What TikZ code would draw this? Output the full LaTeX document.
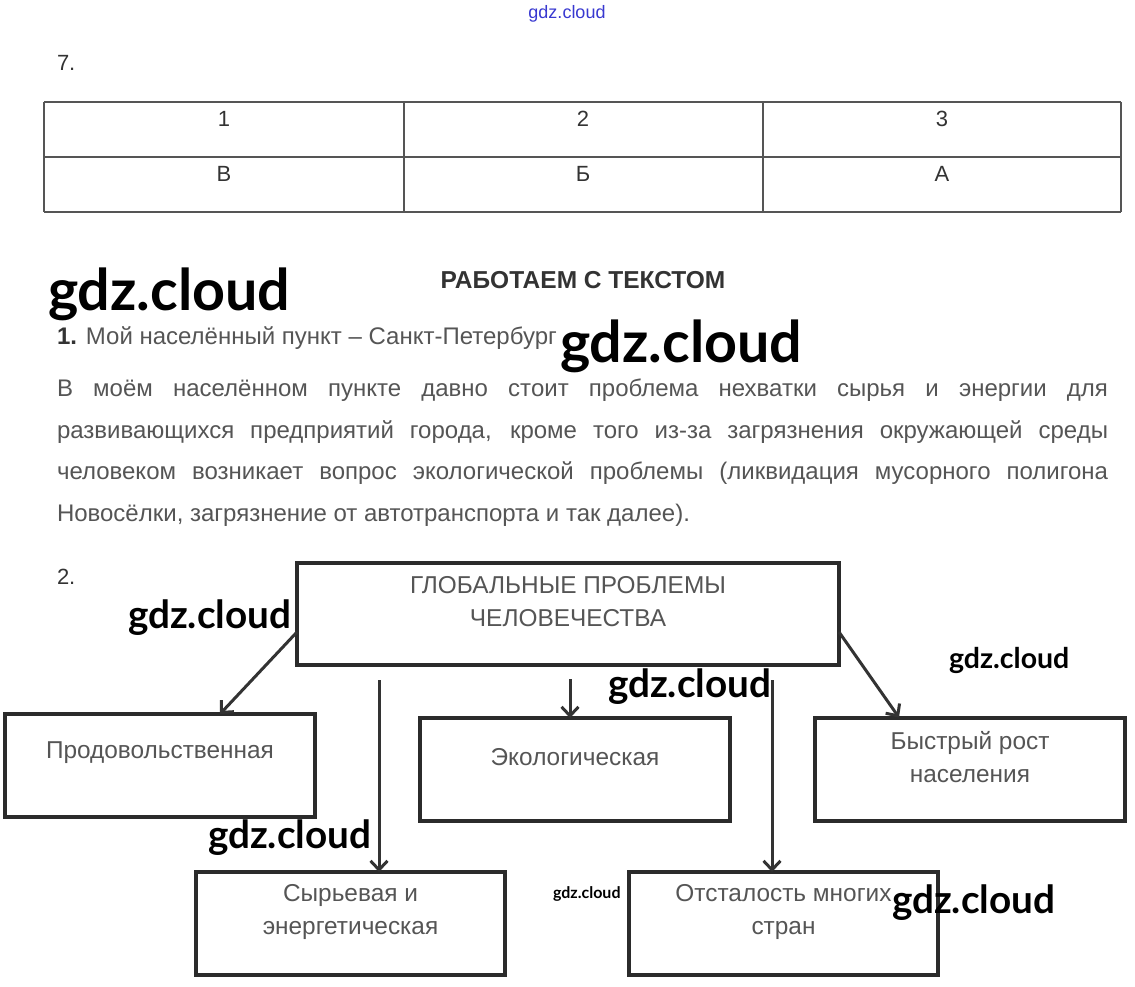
\documentclass[tikz,border=0pt]{standalone}
\usepackage{fontspec}
\setmainfont{Liberation Sans}
\newfontfamily\wmfont{Lato}
\usetikzlibrary{arrows.meta, positioning}

\definecolor{txtgray}{HTML}{555555}
\definecolor{darkgray}{HTML}{333333}
\definecolor{linegray}{HTML}{2B2B2B}
\definecolor{wmblue}{HTML}{3838D0}

\begin{document}
\begin{tikzpicture}[x=1pt, y=-1pt, >=Stealth,
    every node/.style={inner sep=0pt, outer sep=0pt},
    cell/.style={anchor=base, text=darkgray, font=\fontsize{22}{26}\selectfont},
    txtline/.style={anchor=base west, text=txtgray, font=\fontsize{24}{28}\selectfont},
    probbox/.style={draw=linegray, line width=4pt, minimum width=310pt, minimum height=103pt},
    boxtext/.style={align=center, text=txtgray, font=\fontsize{24.4}{33}\selectfont},
    link/.style={draw=darkgray, line width=3pt, -{Straight Barb[length=9pt,width=17pt]}},
    wm/.style={anchor=base west, font=\wmfont\bfseries\fontsize{#1}{#1}\selectfont}
]

    % Define variables
    \def\Lw{1051}
    \useasboundingbox (0,0) rectangle (1135,986);

    % Page heading
    \node[anchor=base, text=wmblue, font=\fontsize{18}{20}\selectfont] (toptag) at (567,18) {gdz.cloud};
    \node[anchor=base west, text=darkgray, font=\fontsize{22}{24}\selectfont] (task7) at (57,70) {7.};

    % Answer table
    \draw[txtgray, line width=1.3pt] (44,102) -- (1121,102) (44,157) -- (1121,157) (44,212) -- (1121,212);
    \draw[txtgray, line width=1.3pt] (44,102) -- (44,212) (404,102) -- (404,212) (763,102) -- (763,212) (1121,102) -- (1121,212);
    \node[cell] (n1) at (224,126) {1};
    \node[cell] (n2) at (583,126) {2};
    \node[cell] (n3) at (942,126) {3};
    \node[cell] (a1) at (224,181) {В};
    \node[cell] (a2) at (583,181) {Б};
    \node[cell] (a3) at (942,181) {А};

    % Working with the text
    \node[anchor=base, text=darkgray, font=\bfseries\fontsize{24.5}{28}\selectfont] (title) at (583,288) {РАБОТАЕМ С ТЕКСТОМ};
    \node[txtline] (city) at (57,344) {{\bfseries\color{darkgray}1.} Мой населённый пункт – Санкт-Петербург};
    \node[txtline] (par1) at (57,396) {\makebox[\Lw pt][s]{В моём населённом пункте давно стоит проблема нехватки сырья и энергии для}};
    \node[txtline] (par2) at (57,438) {\makebox[\Lw pt][s]{развивающихся предприятий города, кроме того из-за загрязнения окружающей среды}};
    \node[txtline] (par3) at (57,479) {\makebox[\Lw pt][s]{человеком возникает вопрос экологической проблемы (ликвидация мусорного полигона}};
    \node[txtline] (par4) at (57,521) {Новосёлки, загрязнение от автотранспорта и так далее).};

    % Scheme
    \node[anchor=base west, text=darkgray, font=\fontsize{22}{24}\selectfont] (task2) at (57,584) {2.};
    \node[probbox, minimum width=542pt, minimum height=102pt] (glob) at (568,614) {};
    \node[probbox] (food) at (160,765.5) {};
    \node[probbox] (eco) at (575,769.5) {};
    \node[probbox] (pop) at (970,769) {};
    \node[probbox, minimum width=309pt] (raw) at (350.5,923.5) {};
    \node[probbox, minimum width=309pt] (back) at (783.5,923.5) {};

    \node[boxtext] (globtxt) at ([yshift=12.5pt]glob.center) {ГЛОБАЛЬНЫЕ ПРОБЛЕМЫ\\ЧЕЛОВЕЧЕСТВА};
    \node[boxtext] (foodtxt) at ([yshift=12.5pt]food.center) {Продовольственная};
    \node[boxtext] (ecotxt) at ([yshift=12.5pt]eco.center) {Экологическая};
    \node[boxtext] (poptxt) at ([yshift=11.5pt]pop.center) {Быстрый рост\\населения};
    \node[boxtext] (rawtxt) at ([yshift=11.5pt]raw.center) {Сырьевая и\\энергетическая};
    \node[boxtext] (backtxt) at ([yshift=11.5pt]back.center) {Отсталость многих\\стран};

    % Connectors
    \coordinate (rawstart) at (379,680);
    \coordinate (ecostart) at (570,679);
    \coordinate (backstart) at (772,680);
    \draw[link] ([yshift=-18pt]glob.west) -- ([xshift=60pt]food.north);
    \draw[link] ([yshift=-18pt]glob.east) -- ([xshift=-71pt]pop.north);
    \draw[link] (rawstart) -- (rawstart |- raw.north);
    \draw[link] (ecostart) -- (ecostart |- eco.north);
    \draw[link] (backstart) -- (backstart |- back.north);

    % Watermarks
    \node[wm=57.4] (wm1) at (48,310) {gdz.cloud};
    \node[wm=57.4] (wm2) at (560,362) {gdz.cloud};
    \node[wm=38.7] (wm3) at (128,628) {gdz.cloud};
    \node[wm=28.5] (wm4) at (949,668) {gdz.cloud};
    \node[wm=38.7] (wm5) at (608,697) {gdz.cloud};
    \node[wm=38.7] (wm6) at (208,848) {gdz.cloud};
    \node[wm=16] (wm7) at (553,898) {gdz.cloud};
    \node[wm=38.7] (wm8) at (892,913) {gdz.cloud};

\end{tikzpicture}
\end{document}
